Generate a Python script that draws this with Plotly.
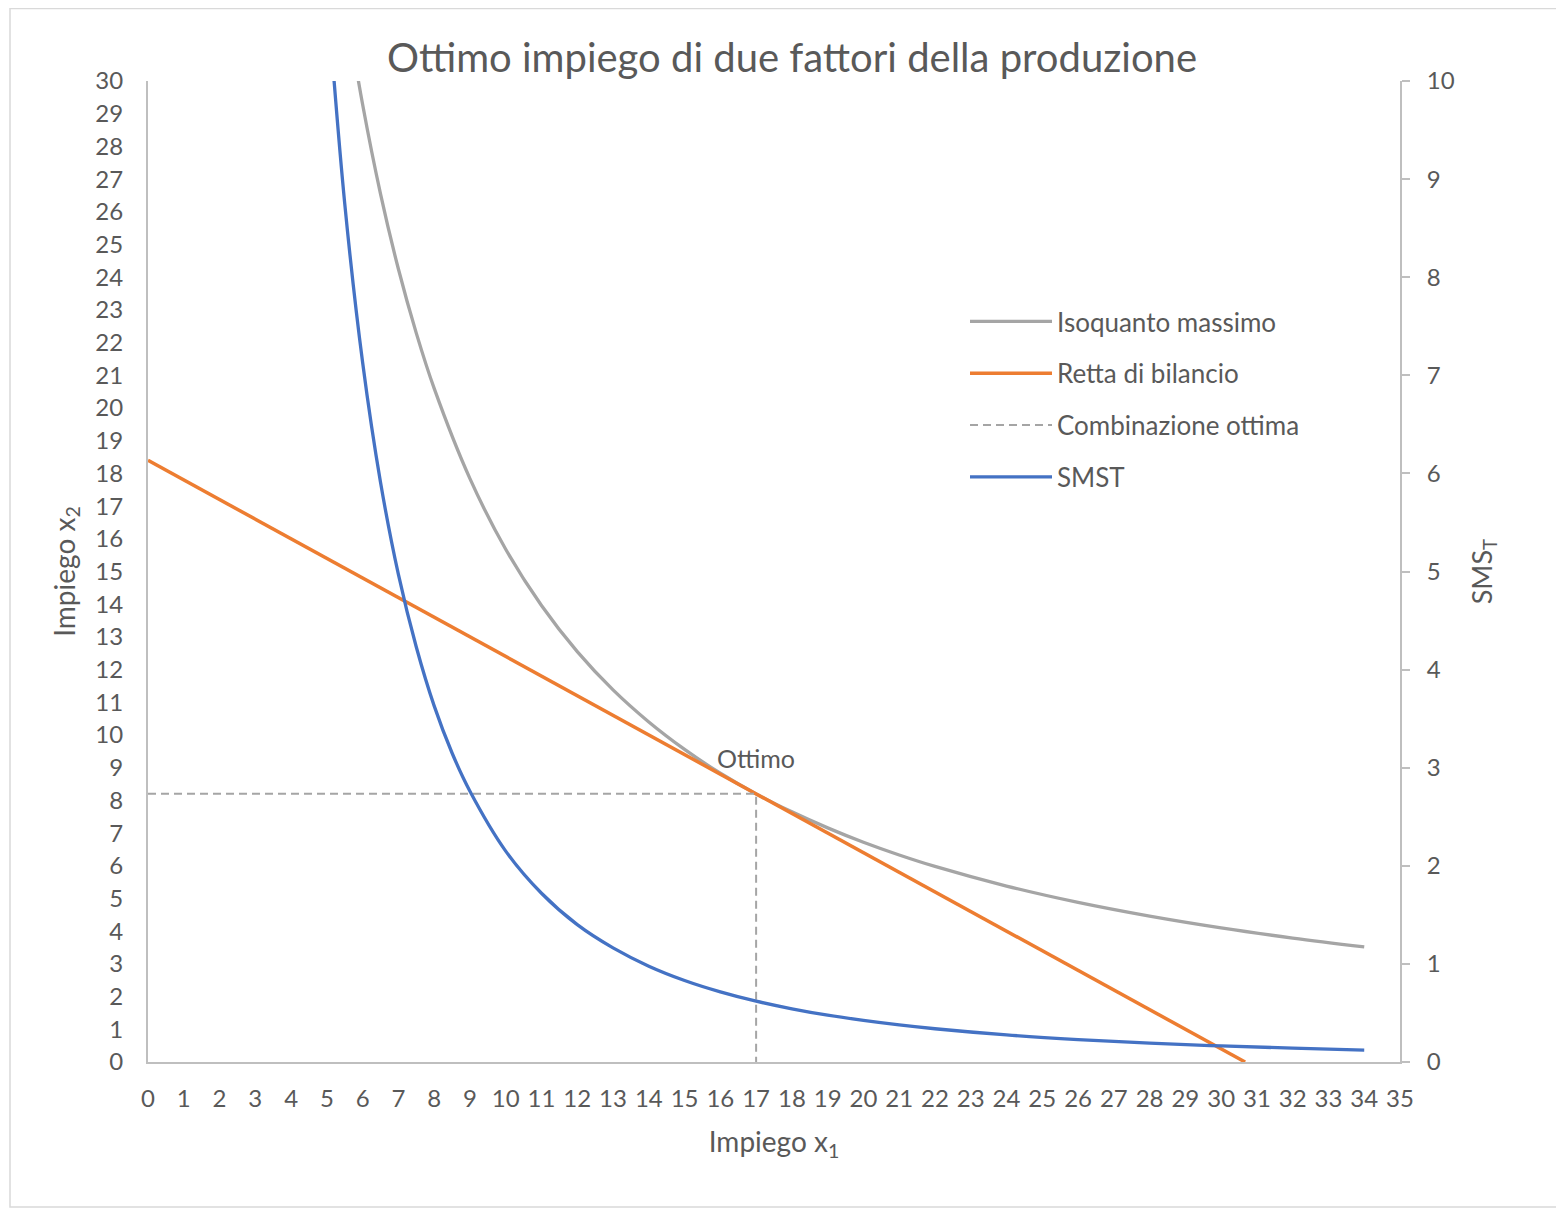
import plotly.graph_objects as go

# ---- data ----
iso_x = [5.6, 6.0, 6.5, 7.0, 7.5, 8.0, 9.0, 10.0, 11.0, 12.0, 13.0, 14.0, 15.0, 16.0, 17.0,
         18.0, 19.0, 20.0, 21.0, 22.0, 24.0, 26.0, 28.0, 30.0, 32.0, 34.0]
iso_y = [31.86, 29.28, 26.55, 24.25, 22.29, 20.6, 17.84, 15.68, 13.96, 12.55, 11.38, 10.40, 9.56,
         8.83, 8.2, 7.65, 7.16, 6.72, 6.33, 5.98, 5.38, 4.88, 4.46, 4.10, 3.79, 3.52]

budget_x = [0.0, 30.67]
budget_y = [18.4, 0.0]

opt_x = [0.0, 17.0, 17.0]
opt_y = [8.2, 8.2, 0.0]

smst_x = [5.0, 5.5, 6.0, 6.5, 7.0, 7.5, 8.0, 8.5, 9.0, 10.0, 11.0, 12.0, 13.0, 14.0, 15.0, 16.0,
          17.0, 18.0, 19.0, 20.0, 21.0, 22.0, 24.0, 26.0, 28.0, 30.0, 32.0, 34.0]
smst_y = [10.94, 8.75, 7.13, 5.91, 4.97, 4.23, 3.63, 3.15, 2.76, 2.15, 1.72, 1.40, 1.163, 0.977,
          0.831, 0.715, 0.62, 0.542, 0.477, 0.424, 0.378, 0.339, 0.276, 0.229, 0.192, 0.164,
          0.141, 0.122]

x_ticks = list(range(0, 36))
y_ticks = list(range(0, 31))
y2_ticks = list(range(0, 11))

series_names = ["Isoquanto massimo", "Retta di bilancio", "Combinazione ottima", "SMST"]
title_text = "Ottimo impiego di due fattori della produzione"
opt_label = "Ottimo"

FONT = "Lato"
TXT = "#595959"
AX = "#BFBFBF"

fig = go.Figure()
fig.add_trace(go.Scatter(x=iso_x, y=iso_y, mode="lines", name=series_names[0],
                         line=dict(color="#A5A5A5", width=3.3, shape="spline", smoothing=1.0),
                         legendgroup="a"))
fig.add_trace(go.Scatter(x=budget_x, y=budget_y, mode="lines", name=series_names[1],
                         line=dict(color="#ED7D31", width=3.5), legendgroup="b"))
fig.add_trace(go.Scatter(x=opt_x, y=opt_y, mode="lines", name=series_names[2],
                         line=dict(color="#A5A5A5", width=2, dash="8px,5px"), legendgroup="c"))
fig.add_trace(go.Scatter(x=smst_x, y=smst_y, mode="lines", name=series_names[3], yaxis="y2",
                         line=dict(color="#4472C4", width=3.3, shape="spline", smoothing=1.0),
                         legendgroup="d"))

fig.add_annotation(x=17, y=9.3, text=opt_label, showarrow=False,
                   font=dict(family=FONT, size=25, color=TXT), xanchor="center", yanchor="middle")

# the page shows the figure with an 8px offset; figure sized so the plot lands where the reference has it
W, H = 1556, 1201
L, R, T, B = 140, 164, 73, 147
pw, ph = W - L - R, H - T - B

def px2paper_x(px):  # px in figure coordinates
    return (px - L) / pw

def px2paper_y(py):
    return (H - B - py) / ph

# outer chart border
fig.add_shape(type="rect", xref="paper", yref="paper",
              x0=px2paper_x(2), x1=px2paper_x(W - 2), y0=px2paper_y(H - 2), y1=px2paper_y(0.5),
              line=dict(color="#D9D9D9", width=1.5), layer="below")

fig.update_layout(
    width=W, height=H,
    margin=dict(l=L, r=R, t=T, b=B, autoexpand=False),
    paper_bgcolor="white", plot_bgcolor="white",
    font=dict(family=FONT, size=24, color=TXT),
    title=dict(text=title_text, x=(792 - 8) / W, xanchor="center", y=1 - (58 - 8) / H,
               yanchor="middle", font=dict(family=FONT, size=40, color=TXT)),
    xaxis=dict(range=[0, 35], tickvals=x_ticks, ticktext=[str(v) for v in x_ticks],
               showgrid=False, zeroline=False, showline=True, linecolor=AX, linewidth=2,
               ticks="", ticklabelstandoff=14, tickfont=dict(size=24, color=TXT),
               title=dict(text="Impiego x<sub>1</sub>", font=dict(size=28, color=TXT), standoff=22)),
    yaxis=dict(range=[0, 30], tickvals=y_ticks, ticktext=[str(v) for v in y_ticks],
               showgrid=False, zeroline=False, showline=True, linecolor=AX, linewidth=2,
               ticks="", ticklabelstandoff=18, tickfont=dict(size=24, color=TXT),
               title=dict(text="Impiego x<sub>2</sub>", font=dict(size=28, color=TXT), standoff=12)),
    yaxis2=dict(range=[0, 10], tickvals=y2_ticks, ticktext=[str(v) for v in y2_ticks],
                overlaying="y", side="right", anchor="x",
                showgrid=False, zeroline=False, showline=True, linecolor=AX, linewidth=2,
                ticks="outside", ticklen=8, tickcolor=AX, tickwidth=2, ticklabelstandoff=12,
                tickfont=dict(size=24, color=TXT),
                title=dict(text="SMS<sub>T</sub>", font=dict(size=27, color=TXT), standoff=19)),
    legend=dict(x=px2paper_x(965 - 8), y=px2paper_y(298 - 8), xanchor="left", yanchor="top",
                bgcolor="rgba(0,0,0,0)", font=dict(size=26, color=TXT),
                tracegroupgap=15, itemwidth=82),
    showlegend=True,
)

fig.write_html("out.html")
